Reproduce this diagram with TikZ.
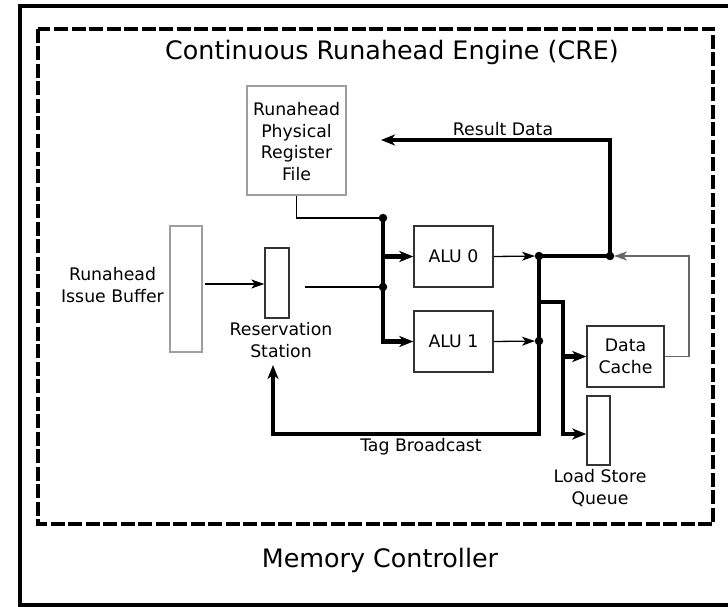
\documentclass[tikz,border=0pt]{standalone}
\usepackage{fontspec}
\setmainfont{DejaVu Sans}
\usetikzlibrary{arrows.meta}
\tikzset{
  lbl/.style={font=\fontsize{17.3}{21.7}\selectfont, align=center, inner sep=0pt},
  bigtxt/.style={font=\fontsize{25.4}{30}\selectfont, inner sep=0pt},
  lightbox/.style={draw=black!38, line width=1.4pt, inner sep=0pt},
  darkbox/.style={draw=black!80, line width=1.4pt, inner sep=0pt},
  thinwire/.style={line width=1.3pt},
  thinarrow/.style={line width=1.3pt, -{Stealth[length=13pt,width=9pt,inset=3.5pt]}},
  buswire/.style={line width=4.6pt, line join=miter},
  busarrow/.style={line width=4.6pt, line join=miter, -{Stealth[length=14pt,width=11pt,inset=4pt]}},
  dot/.style={circle, fill=black, inner sep=0pt, minimum size=8.5pt},
}
\begin{document}
\begin{tikzpicture}[x=1pt,y=-1pt]
\useasboundingbox (0,0) rectangle (728,607);
% outer and dashed frames
\draw[line width=3.6pt] (20,6) rectangle (745,605);
\draw[line width=3.8pt, dash pattern=on 14pt off 3.5pt] (38,29) rectangle (713,524);
\node[bigtxt] (title) at (392,52) {Continuous Runahead Engine (CRE)};
\node[bigtxt] (mc) at (380,560) {Memory Controller};

% boxes
\node[lightbox, minimum width=99pt, minimum height=109pt] (rprf) at (296.5,140.5) {};
\node[lbl] (rprft) at (296.5,141.5) {Runahead\\Physical\\Register\\File};
\node[lightbox, minimum width=32pt, minimum height=126pt] (ib) at (186,289) {};
\node[lbl] (ibt) at (112.5,285) {Runahead\\Issue Buffer};
\node[darkbox, minimum width=24pt, minimum height=70pt] (rs) at (277,283) {};
\node[lbl] (rst) at (281,340) {Reservation\\Station};
\node[darkbox, minimum width=79pt, minimum height=61pt, lbl] (alu0) at (453.5,256.5) {ALU 0};
\node[darkbox, minimum width=79pt, minimum height=61pt, lbl] (alu1) at (453.5,341.5) {ALU 1};
\node[darkbox, minimum width=77pt, minimum height=61pt, lbl] (dc) at (625.5,356.5) {Data\\Cache};
\node[darkbox, minimum width=23pt, minimum height=69pt] (lsq) at (598.5,430.5) {};
\node[lbl] (lsqt) at (600,488) {Load Store\\Queue};
\node[lbl] (tbt) at (421,447) {Tag Broadcast};
\node[lbl] (rdt) at (503,129) {Result Data};

% junctions
\coordinate (j1) at (383,218);
\coordinate (j2) at (383,287);
\coordinate (j3) at (539,256);
\coordinate (j4) at (539,341);
\coordinate (j5) at (610,256);
\coordinate (b1) at (539,302);
\coordinate (b2) at (563,302);
\coordinate (b3) at (563,434);
\coordinate (tbc) at (539,434);
\coordinate (tbend) at (273,365);
\coordinate (rdtop) at (610,140);
\coordinate (rdend) at (381,140);
\coordinate (dcr) at (689,356.5);

% thin wires
\draw[thinwire] (rprf.south) |- (j1);
\draw[thinarrow, shorten <=2pt] (ib.east |- 0,284) -- (rs.west |- 0,284);
\draw[thinwire, shorten <=15pt] (rs.east |- j2) -- (j2);
\draw[thinarrow, shorten >=4pt] (alu0.east) -- (j3);
\draw[thinarrow, shorten >=4pt] (alu1.east) -- (j4);
\draw[thinarrow, draw=black!60, shorten >=4pt] (dc.east) -- (dcr) |- (j5);

% buses
\draw[busarrow] (j1) |- (alu1.west);
\draw[busarrow] (j1 |- alu0.west) -- (alu0.west);
\draw[busarrow] (j3) -- (tbc) -| (tbend);
\draw[buswire] (j3) -- (j5);
\draw[busarrow] (j5) -- (rdtop) -- (rdend);
\draw[busarrow] (b1) -- (b2) -- (b3) -- (lsq.west |- b3);
\draw[busarrow] (b2 |- dc.west) -- (dc.west);

% dots
\foreach \p in {j1,j2,j3,j4,j5} \node[dot] at (\p) {};
\end{tikzpicture}
\end{document}
